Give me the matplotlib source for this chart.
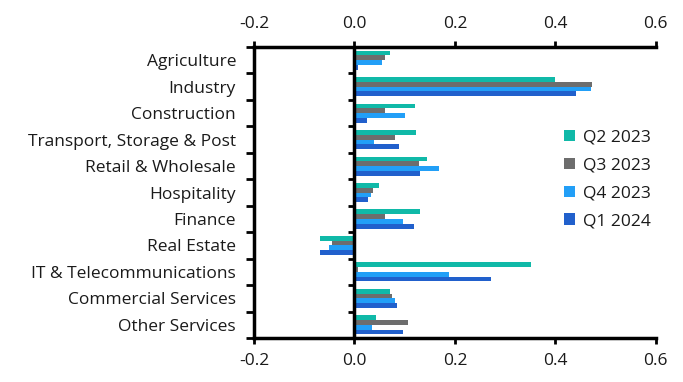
import numpy as np
import matplotlib.pyplot as plt

sectors = ["Agriculture", "Industry", "Construction", "Transport, Storage & Post",
           "Retail & Wholesale", "Hospitality", "Finance", "Real Estate",
           "IT & Telecommunications", "Commercial Services", "Other Services"]
q2_2023 = [0.070, 0.400, 0.121, 0.123, 0.145, 0.048, 0.131, -0.068, 0.352, 0.070, 0.042]
q3_2023 = [0.061, 0.474, 0.061, 0.080, 0.129, 0.036, 0.060, -0.044, 0.008, 0.074, 0.107]
q4_2023 = [0.054, 0.472, 0.101, 0.038, 0.169, 0.032, 0.096, -0.050, 0.189, 0.080, 0.034]
q1_2024 = [0.008, 0.442, 0.024, 0.088, 0.131, 0.026, 0.119, -0.068, 0.271, 0.084, 0.096]
series = [("Q2 2023", q2_2023, "#10b9a8"),
          ("Q3 2023", q3_2023, "#6d6d6d"),
          ("Q4 2023", q4_2023, "#229ff7"),
          ("Q1 2024", q1_2024, "#2160cc")]
xticks = [-0.2, 0.0, 0.2, 0.4, 0.6]

plt.rcParams['font.family'] = ['Open Sans', 'DejaVu Sans']
fs = 12.5
fig = plt.figure(figsize=(6.83, 3.82), dpi=100)
ax = fig.add_axes([0.372, 0.115, 0.588, 0.762])

y = np.arange(len(sectors))
h = 0.18
for i, (name, vals, col) in enumerate(series):
    ax.barh(y - 1.5 * h + i * h, vals, height=h, color=col, label=name)

ax.set_ylim(len(sectors) - 0.5, -0.5)
ax.set_xlim(-0.2, 0.6)

# category labels on minor ticks, tick marks on boundaries
ax.set_yticks(np.arange(len(sectors) + 1) - 0.5)
ax.set_yticklabels([])
ax.set_yticks(y, minor=True)
ax.set_yticklabels(sectors, minor=True, fontsize=fs, color='#1a1a1a')
ax.tick_params(axis='y', which='minor', length=0, pad=13)
ax.tick_params(axis='y', which='major', length=6, width=2, direction='out')

ax.set_xticks(xticks)
ax.set_xticklabels([f"{v:.1f}" for v in xticks], fontsize=fs, color='#1a1a1a')
ax.tick_params(axis='x', top=True, labeltop=True, bottom=True, labelbottom=True,
               length=4, width=2, direction='out', pad=7)

for s in ['left', 'top', 'bottom']:
    ax.spines[s].set_linewidth(2.5)
ax.spines['right'].set_visible(False)
ax.axvline(0, color='black', lw=2.5, zorder=3)
ax.hlines(np.arange(len(sectors) + 1) - 0.5, -0.012, 0, color='black', lw=2, zorder=3)

leg = ax.legend(loc='center left', bbox_to_anchor=(0.754, 0.545), frameon=False,
                fontsize=fs, handlelength=0.63, handleheight=0.63, handletextpad=0.45,
                labelspacing=0.68, borderaxespad=0)
for t in leg.get_texts():
    t.set_color('#1a1a1a')

fig.savefig("out.png", dpi=100)
